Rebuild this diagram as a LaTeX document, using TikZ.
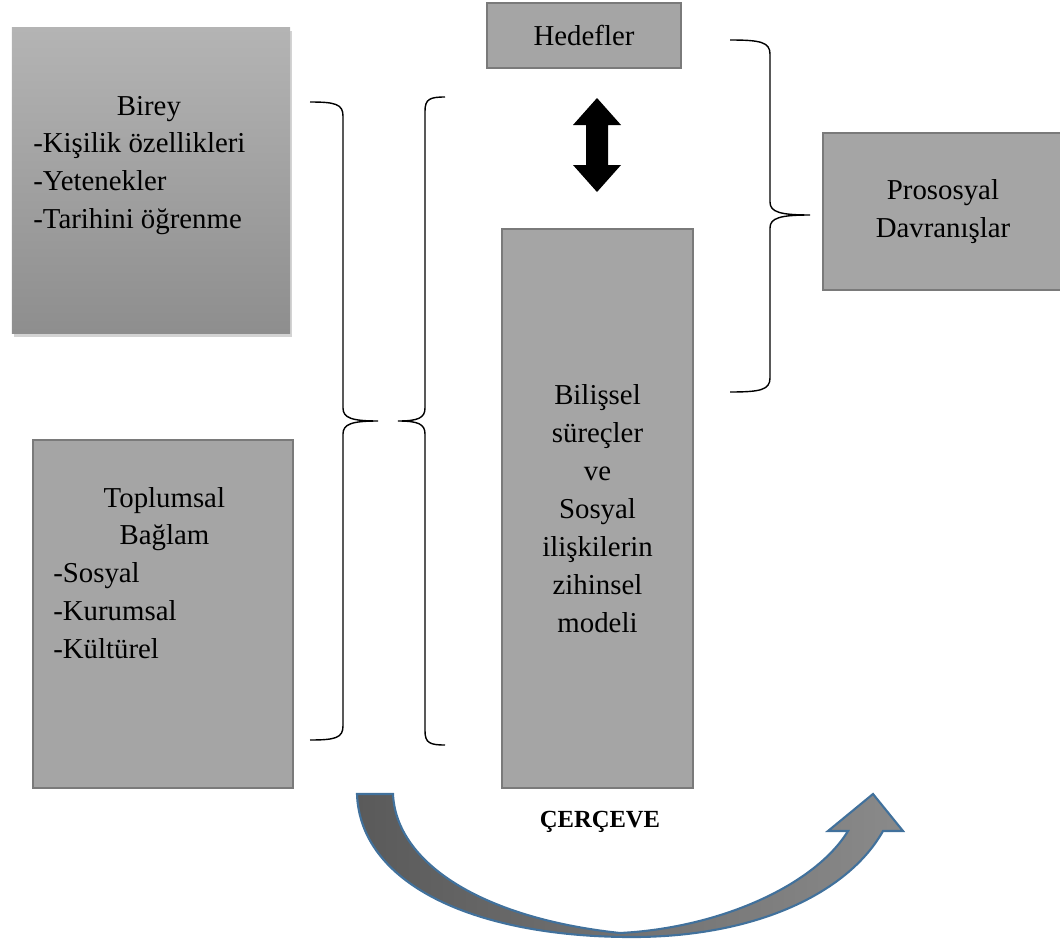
\documentclass[tikz,border=0pt]{standalone}
\usepackage{fontspec}
\setmainfont{Liberation Serif}
\usetikzlibrary{shadows}
\definecolor{boxfill}{HTML}{A5A5A5}
\definecolor{boxline}{HTML}{7A7A7A}
\definecolor{bireytop}{HTML}{B4B4B4}
\definecolor{bireybot}{HTML}{8E8E8E}
\definecolor{framedark}{HTML}{5A5A5A}
\definecolor{framelight}{HTML}{8A8A8A}
\definecolor{frameline}{HTML}{41719C}

\begin{document}
\begin{tikzpicture}[x=0.025cm, y=-0.025cm, every node/.style={font=\fontsize{20.5}{27}\selectfont}]
  \tikzstyle{box}=[draw=boxline,fill=boxfill,line width=1.2pt,inner sep=0pt,align=center]
  \tikzstyle{txt}=[inner sep=0pt,anchor=base west]
  \tikzstyle{brace}=[line width=1pt,black]
  \useasboundingbox (0,0) rectangle (1060,940);
  % kutular
  \node[top color=bireytop,bottom color=bireybot,drop shadow={shadow xshift=1.5pt,shadow yshift=-2.5pt,opacity=0.35},minimum width=6.95cm,minimum height=7.625cm] (birey) at (151,180.5) {};
  \node[txt] (bireytxt) at (33,115) {\begin{tabular}[t]{@{}l@{}}\hspace*{2.9em}Birey\\-Kişilik özellikleri\\-Yetenekler\\-Tarihini öğrenme\end{tabular}};
  \node[box,minimum width=6.5cm,minimum height=8.7cm] (toplum) at (163,614) {};
  \node[txt] (toplumtxt) at (53,507) {\begin{tabular}[t]{@{}l@{}}\hspace*{1.75em}Toplumsal\\\hspace*{2.3em}Bağlam\\-Sosyal\\-Kurumsal\\-Kültürel\end{tabular}};
  \node[box,minimum width=4.85cm,minimum height=1.625cm] (hedef) at (584,35.5) {Hedefler};
  \node[box,minimum width=4.775cm,minimum height=13.975cm] (bilis) at (597.5,508.5) {Bilişsel\\süreçler\\ve\\Sosyal\\ilişkilerin\\zihinsel\\modeli};
  \node[box,minimum width=6cm,minimum height=3.925cm] (prosos) at (943,211.5) {Prososyal\\Davranışlar};
  % parantezler
  \draw[brace] (310,102) .. controls (335,102) and (343,104) .. (343,116) -- (343,408) .. controls (343,418) and (352,421) .. (378,421) .. controls (352,421) and (343,424) .. (343,434) -- (343,726) .. controls (343,738) and (335,740) .. (310,740);
  \draw[brace] (445,97) .. controls (430,97) and (425,99) .. (425,111) -- (425,408) .. controls (425,418) and (418,421) .. (398,421) .. controls (418,421) and (425,424) .. (425,434) -- (425,731) .. controls (425,743) and (430,745) .. (445,745);
  \draw[brace] (730,40) .. controls (760,40) and (770,42) .. (770,54) -- (770,202) .. controls (770,212) and (780,215) .. (810,215) .. controls (780,215) and (770,218) .. (770,228) -- (770,378) .. controls (770,390) and (760,392) .. (730,392);
  % cift yonlu ok
  \fill[black] (597,98) -- (621,125) -- (608,125) -- (608,165) -- (621,165) -- (597,192) -- (573,165) -- (586,165) -- (586,125) -- (573,125) -- cycle;
  % cerceve oku
  \draw[draw=frameline,line width=1.5pt,left color=framedark,right color=framelight] (357,794) -- (393,794) .. controls (396,862) and (480,918) .. (620,933) .. controls (720,928) and (815,885) .. (848,831) -- (828,831) -- (873,794) -- (903,831) -- (883,831) .. controls (850,890) and (760,938) .. (628,937) .. controls (470,936) and (360,882) .. (357,794) -- cycle;
  \node[font=\fontsize{17.5}{20}\selectfont\bfseries] (cerceve) at (600,822) {ÇERÇEVE};
\end{tikzpicture}
\end{document}
